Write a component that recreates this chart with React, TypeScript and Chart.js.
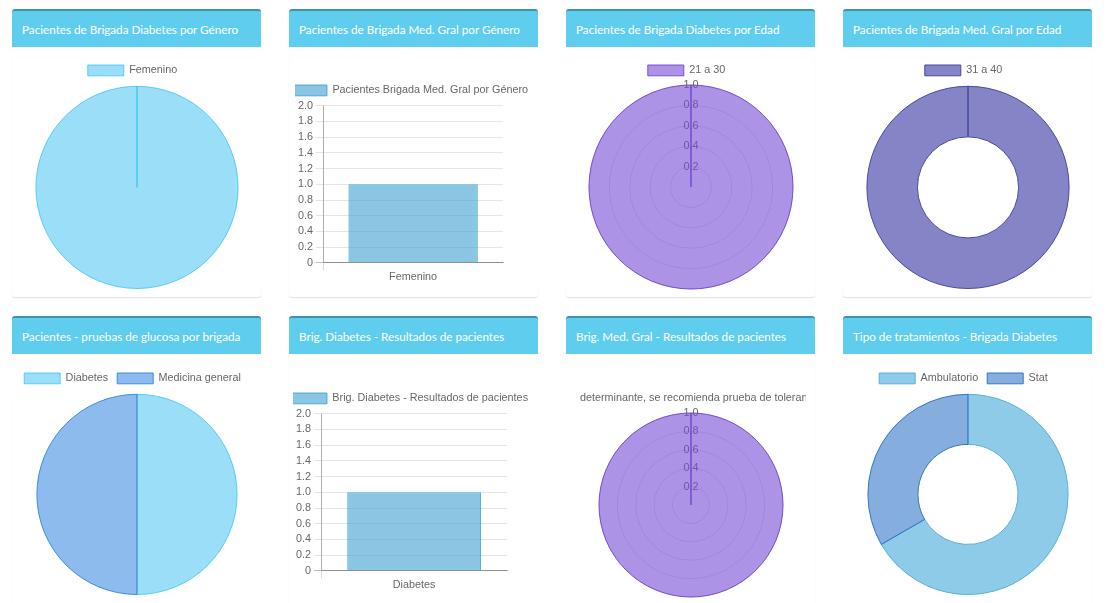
import React, { useEffect, useRef } from "react";
import { Chart, registerables } from "chart.js";

Chart.register(...registerables);

const FONT = "'Liberation Sans', Arial, Helvetica, sans-serif";
Chart.defaults.font.family = FONT;
Chart.defaults.font.size = 10.8;
Chart.defaults.color = "#666";

// ---------- data ----------
const cardTitles = [
  "Pacientes de Brigada Diabetes por Género",
  "Pacientes de Brigada Med. Gral por Género",
  "Pacientes de Brigada Diabetes por Edad",
  "Pacientes de Brigada Med. Gral por Edad",
  "Pacientes - pruebas de glucosa por brigada",
  "Brig. Diabetes - Resultados de pacientes",
  "Brig. Med. Gral - Resultados de pacientes",
  "Tipo de tratamientos - Brigada Diabetes",
];

const genderDiabetesLabels = ["Femenino"];
const genderDiabetesValues = [1];

const genderMedSeries = "Pacientes Brigada Med. Gral por Género";
const genderMedLabels = ["Femenino"];
const genderMedValues = [1];

const ageDiabetesLabels = ["21 a 30"];
const ageDiabetesValues = [1];

const ageMedLabels = ["31 a 40"];
const ageMedValues = [1];

const glucoseLabels = ["Diabetes", "Medicina general"];
const glucoseValues = [1, 1];

const resultsDiabetesSeries = "Brig. Diabetes - Resultados de pacientes";
const resultsDiabetesLabels = ["Diabetes"];
const resultsDiabetesValues = [1];

const resultsMedLabels = ["determinante, se recomienda prueba de toleran"];
const resultsMedValues = [1];

const treatmentLabels = ["Ambulatorio", "Stat"];
const treatmentValues = [2, 1];

const barAxisMin = 0;
const barAxisMax = 2;
const barAxisStep = 0.2;
const polarAxisMin = 0;
const polarAxisMax = 1;
const polarAxisStep = 0.2;

// ---------- helpers ----------
const legendShift = (shift: number) => ({
  id: "legendShift",
  afterLayout(chart: any) {
    const lg = chart.legend;
    if (!lg) return;
    lg.left = -shift - 60;
    lg.right = chart.width - shift + 60;
  },
});

const legendOpts = (padding: number, extra: any = {}) => ({
  display: true,
  position: "top",
  labels: {
    boxWidth: 36,
    padding,
    color: "#666",
    font: { size: 10.8, family: FONT },
    ...extra,
  },
});

const baseOpts = {
  animation: false,
  responsive: false,
  devicePixelRatio: 1,
  events: [],
};

const barConfig = (labels: string[], values: number[], series: string, padRight: number) => ({
  type: "bar",
  data: {
    labels,
    datasets: [
      {
        label: series,
        data: values,
        backgroundColor: "rgba(60,160,210,0.6)",
        borderColor: "rgba(60,160,210,0.85)",
        borderWidth: 1,
      },
    ],
  },
  options: {
    ...baseOpts,
    layout: { padding: { right: padRight } },
    plugins: { legend: legendOpts(9), tooltip: { enabled: false } },
    scales: {
      y: {
        min: barAxisMin,
        max: barAxisMax,
        ticks: {
          stepSize: barAxisStep,
          padding: 3,
          autoSkip: false,
          callback: (v: any) => (Number(v) === 0 ? "0" : Number(v).toFixed(1)),
        },
        grid: {
          tickLength: 7.2,
          color: (ctx: any) =>
            ctx.tick && ctx.tick.value === 0 ? "rgba(0,0,0,0.25)" : "rgba(0,0,0,0.1)",
        },
        border: { color: "rgba(0,0,0,0.2)" },
      },
      x: {
        ticks: { padding: 1 },
        grid: {
          tickLength: 7.2,
          color: (ctx: any) => (ctx.index === 0 ? "rgba(0,0,0,0.15)" : "rgba(0,0,0,0)"),
        },
        border: { color: "rgba(0,0,0,0.25)" },
      },
    },
  },
  plugins: [legendShift(4.5)],
});

const polarConfig = (labels: string[], values: number[], hideBox: boolean, shift: number) => ({
  type: "polarArea",
  data: {
    labels,
    datasets: [
      {
        data: values,
        backgroundColor: "rgba(118,75,214,0.6)",
        borderColor: "rgba(110,70,210,0.9)",
        borderWidth: 1,
      },
    ],
  },
  options: {
    ...baseOpts,
    plugins: {
      legend: legendOpts(
        4,
        hideBox
          ? {
              boxWidth: 0,
              generateLabels: (chart: any) =>
                (Chart as any).overrides.polarArea.plugins.legend.labels
                  .generateLabels(chart)
                  .map((l: any) => ({
                    ...l,
                    fillStyle: "rgba(0,0,0,0)",
                    strokeStyle: "rgba(0,0,0,0)",
                    lineWidth: 0,
                  })),
            }
          : {}
      ),
      tooltip: { enabled: false },
    },
    scales: {
      r: {
        min: polarAxisMin,
        max: polarAxisMax,
        ticks: {
          stepSize: polarAxisStep,
          showLabelBackdrop: false,
          backdropPadding: -5.4,
          color: "#666",
          callback: (v: any) => Number(v).toFixed(1),
        },
        grid: { color: "rgba(0,0,0,0.12)" },
        angleLines: { display: false },
        pointLabels: { display: false },
      },
    },
  },
  plugins: [legendShift(shift)],
});

const arcConfig = (
  type: string,
  labels: string[],
  values: number[],
  bg: string[],
  border: string[]
) => ({
  type,
  data: {
    labels,
    datasets: [
      {
        data: values,
        backgroundColor: bg,
        borderColor: border,
        borderWidth: 1,
      },
    ],
  },
  options: {
    ...baseOpts,
    cutout: type === "doughnut" ? "50%" : 0,
    plugins: { legend: legendOpts(9), tooltip: { enabled: false } },
  },
  plugins: [legendShift(4.5)],
});

// ---------- components ----------
function ChartCanvas({ left, top, width, height, build }: any) {
  const ref = useRef<HTMLCanvasElement>(null);
  useEffect(() => {
    const chart = new Chart(ref.current as HTMLCanvasElement, build());
    return () => chart.destroy();
  }, []);
  return (
    <canvas
      ref={ref}
      width={width}
      height={height}
      style={{ position: "absolute", left, top, width, height, display: "block" }}
    />
  );
}

const cardLefts = [12, 289, 566, 843];
const rowTops = [9, 316];
const CARD_W = 249;

function Card({ left, top, title, bottom }: any) {
  return (
    <div
      style={{
        position: "absolute",
        left,
        top,
        width: CARD_W,
        height: bottom - top,
        background: "#fff",
        borderRadius: 3,
        boxShadow: "0 1px 1px rgba(0,0,0,0.12)",
      }}
    >
      <div
        style={{
          height: 36,
          borderTop: "2px solid #3a93b3",
          borderRadius: "3px 3px 0 0",
          background: "#5fcdee",
          color: "#fff",
          fontFamily: "Lato, 'Open Sans', sans-serif",
          fontSize: 11.7,
          lineHeight: "36px",
          paddingLeft: 10,
          whiteSpace: "nowrap",
          overflow: "hidden",
        }}
      >
        {title}
      </div>
    </div>
  );
}

export default function App() {
  return (
    <div
      style={{
        position: "absolute",
        left: 0,
        top: 0,
        width: 1113,
        height: 603,
        overflow: "hidden",
        background: "#fff",
      }}
    >
      {cardTitles.map((t, i) => (
        <Card
          key={i}
          left={cardLefts[i % 4]}
          top={rowTops[Math.floor(i / 4)]}
          bottom={i < 4 ? 297 : 640}
          title={t}
        />
      ))}

      <ChartCanvas
        left={22}
        top={56}
        width={230}
        height={233}
        build={() =>
          arcConfig(
            "pie",
            genderDiabetesLabels,
            genderDiabetesValues,
            ["rgba(54,192,240,0.5)"],
            ["rgba(54,192,240,0.75)"]
          )
        }
      />
      <ChartCanvas
        left={295}
        top={76}
        width={238}
        height={209}
        build={() => barConfig(genderMedLabels, genderMedValues, genderMedSeries, 30)}
      />
      <ChartCanvas
        left={576}
        top={61}
        width={230}
        height={229}
        build={() => polarConfig(ageDiabetesLabels, ageDiabetesValues, false, 4.5)}
      />
      <ChartCanvas
        left={853}
        top={56}
        width={230}
        height={233}
        build={() =>
          arcConfig(
            "doughnut",
            ageMedLabels,
            ageMedValues,
            ["rgba(50,50,160,0.6)"],
            ["rgb(72,72,160)"]
          )
        }
      />

      <ChartCanvas
        left={7}
        top={364}
        width={260}
        height={231}
        build={() =>
          arcConfig(
            "pie",
            glucoseLabels,
            glucoseValues,
            ["rgba(54,192,240,0.5)", "rgba(30,120,220,0.5)"],
            ["rgba(54,192,240,0.75)", "rgb(60,140,220)"]
          )
        }
      />
      <ChartCanvas
        left={293}
        top={384}
        width={242}
        height={209}
        build={() =>
          barConfig(resultsDiabetesLabels, resultsDiabetesValues, resultsDiabetesSeries, 28)
        }
      />
      <ChartCanvas
        left={576}
        top={389}
        width={230}
        height={209}
        build={() => polarConfig(resultsMedLabels, resultsMedValues, true, 0)}
      />
      <ChartCanvas
        left={853}
        top={364}
        width={230}
        height={231}
        build={() =>
          arcConfig(
            "doughnut",
            treatmentLabels,
            treatmentValues,
            ["rgba(60,165,215,0.58)", "rgba(40,110,195,0.57)"],
            ["rgb(90,175,215)", "rgb(50,120,195)"]
          )
        }
      />
    </div>
  );
}
